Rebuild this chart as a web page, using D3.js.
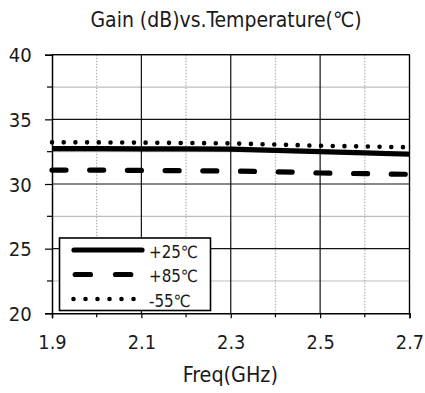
<!DOCTYPE html>
<html>
<head>
<meta charset="utf-8">
<script src="https://cdn.jsdelivr.net/npm/d3@7"></script>
<style>
  html, body { margin: 0; padding: 0; background: #fff; }
  svg { display: block; }
  text { font-family: "DejaVu Sans Condensed", "DejaVu Sans", sans-serif; fill: #1a1a1a; }
</style>
</head>
<body>
<svg id="chart" width="425" height="393"></svg>
<script>
const freqs = [1.9, 2.0, 2.1, 2.2, 2.3, 2.4, 2.5, 2.6, 2.7];
const gain25 = [32.73, 32.73, 32.72, 32.71, 32.69, 32.60, 32.50, 32.40, 32.30];
const gain85 = [31.08, 31.08, 31.05, 31.03, 31.00, 30.95, 30.85, 30.80, 30.75];
const gainM55 = [33.22, 33.22, 33.20, 33.17, 33.14, 33.05, 32.96, 32.90, 32.84];
const seriesNames = ["+25\u2103", "+85\u2103", "-55\u2103"];
const xTicks = [1.9, 2.1, 2.3, 2.5, 2.7];
const xMinor = [2.0, 2.2, 2.4, 2.6];
const yTicks = [20, 25, 30, 35, 40];
const yMinor = [22.5, 27.5, 32.5, 37.5];
const titleText = "Gain (dB)vs.Temperature(\u2103)";
const xTitle = "Freq(GHz)";

const svg = d3.select("#chart");
const x = d3.scaleLinear().domain([1.9, 2.7]).range([52, 409.5]);
const y = d3.scaleLinear().domain([20, 40]).range([313.3, 54.7]);

// scale a text node's font size so its width matches a target width
function fit(sel, targetW) {
  const node = sel.node();
  const w = node.getComputedTextLength();
  const fs = parseFloat(sel.attr("font-size"));
  if (w > 0) sel.attr("font-size", (fs * targetW / w).toFixed(2));
  return sel;
}

// minor horizontal gridlines
svg.append("g").selectAll("line").data(yMinor).join("line")
  .attr("x1", x(1.9)).attr("x2", x(2.7))
  .attr("y1", d => y(d)).attr("y2", d => y(d))
  .attr("stroke", "#bdbdbd").attr("stroke-width", 1.2);
// minor vertical gridlines (dotted)
svg.append("g").selectAll("line").data(xMinor).join("line")
  .attr("x1", d => x(d)).attr("x2", d => x(d))
  .attr("y1", y(40)).attr("y2", y(20))
  .attr("stroke", "#b0b0b0").attr("stroke-width", 1.2).attr("stroke-dasharray", "1.5,1.5");
// major horizontal gridlines
svg.append("g").selectAll("line").data(yTicks.filter(d => d > 20)).join("line")
  .attr("x1", x(1.9)).attr("x2", x(2.7))
  .attr("y1", d => y(d)).attr("y2", d => y(d))
  .attr("stroke", "#111").attr("stroke-width", 1.2);
// major vertical gridlines
svg.append("g").selectAll("line").data(xTicks.filter(d => d > 1.9)).join("line")
  .attr("x1", d => x(d)).attr("x2", d => x(d))
  .attr("y1", y(40)).attr("y2", y(20))
  .attr("stroke", "#111").attr("stroke-width", 1.2);

// axes
const yAxis = d3.axisLeft(y).tickValues(yTicks).tickSize(7).tickFormat(d3.format("d"));
const gy = svg.append("g").attr("transform", `translate(${x(1.9)},0)`).call(yAxis);
gy.attr("font-family", null).attr("font-size", null);
gy.select(".domain").attr("stroke", "#000").attr("stroke-width", 1.5);
gy.selectAll(".tick line").attr("stroke", "#000").attr("stroke-width", 1.2);
gy.selectAll(".tick text").attr("font-size", 19.5).attr("x", -20.3).attr("dy", null)
  .attr("y", 7).attr("fill", "#1a1a1a");
gy.selectAll(".tick text").each(function (d) { if (d === 40) fit(d3.select(this), 23); });
const yfs = gy.selectAll(".tick text").filter(d => d === 40).attr("font-size");
gy.selectAll(".tick text").attr("font-size", yfs);
gy.append("g").selectAll("line").data(yMinor).join("line")
  .attr("x1", -5).attr("x2", 0).attr("y1", d => y(d)).attr("y2", d => y(d))
  .attr("stroke", "#000").attr("stroke-width", 1.2);

const xAxis = d3.axisBottom(x).tickValues(xTicks).tickSize(5).tickFormat(d3.format(".1f"));
const gx = svg.append("g").attr("transform", `translate(0,${y(20)})`).call(xAxis);
gx.attr("font-family", null).attr("font-size", null);
gx.select(".domain").attr("stroke", "#000").attr("stroke-width", 1.5);
gx.selectAll(".tick line").attr("stroke", "#000").attr("stroke-width", 1.2);
gx.selectAll(".tick text").attr("font-size", 19.5).attr("dy", null).attr("y", 36)
  .attr("fill", "#1a1a1a");
gx.selectAll(".tick text").each(function (d) { if (d === 1.9) fit(d3.select(this), 28.3); });
const xfs = gx.selectAll(".tick text").filter(d => d === 1.9).attr("font-size");
gx.selectAll(".tick text").attr("font-size", xfs);
gx.append("g").selectAll("line").data(xMinor).join("line")
  .attr("x1", d => x(d)).attr("x2", d => x(d)).attr("y1", 0).attr("y2", 4)
  .attr("stroke", "#000").attr("stroke-width", 1.2);

// top and right borders
svg.append("line").attr("x1", x(1.9)).attr("x2", x(2.7)).attr("y1", y(40)).attr("y2", y(40))
  .attr("stroke", "#000").attr("stroke-width", 1.2);
svg.append("line").attr("x1", x(2.7)).attr("x2", x(2.7)).attr("y1", y(40)).attr("y2", y(20))
  .attr("stroke", "#000").attr("stroke-width", 1.2);

// data lines
const line = d3.line().x(d => x(d[0])).y(d => y(d[1]));
const series = [
  { vals: gain25, dash: null, cap: "butt", w: 5.2 },
  { vals: gain85, dash: "14,23.7", cap: "round", w: 5.2 },
  { vals: gainM55, dash: "0,11.7", cap: "round", w: 4.6 }
];
series.forEach(s => {
  svg.append("path")
    .datum(freqs.map((f, i) => [f, s.vals[i]]))
    .attr("d", line)
    .attr("fill", "none").attr("stroke", "#000")
    .attr("stroke-width", s.w)
    .attr("stroke-linecap", s.cap)
    .attr("stroke-dasharray", s.dash);
});

// legend
const lg = svg.append("g");
lg.append("rect").attr("x", 59.5).attr("y", 238).attr("width", 151).attr("height", 72.5)
  .attr("fill", "#fff").attr("stroke", "#000").attr("stroke-width", 1.6);
const legendRows = [
  { y: 250, x1: 74, x2: 142, dash: null, cap: "round", w: 5.2 },
  { y: 274.5, x1: 75.2, x2: 131, dash: "15.3,25", cap: "round", w: 5.2 },
  { y: 299, x1: 73.5, x2: 134, dash: "0,12", cap: "round", w: 4.6 }
];
const legTexts = [];
legendRows.forEach((r, i) => {
  lg.append("line").attr("x1", r.x1).attr("x2", r.x2).attr("y1", r.y).attr("y2", r.y)
    .attr("stroke", "#000").attr("stroke-width", r.w).attr("stroke-linecap", r.cap)
    .attr("stroke-dasharray", r.dash);
  legTexts.push(lg.append("text").attr("x", 149).attr("y", r.y + 7.5).attr("font-size", 18)
    .text(seriesNames[i]));
});
fit(legTexts[0], 49);
legTexts.forEach(t => t.attr("font-size", legTexts[0].attr("font-size")));

// titles
const tt = svg.append("text").attr("x", 226).attr("y", 26.7).attr("text-anchor", "middle")
  .attr("font-size", 17.5).text(titleText);
fit(tt, 271);
const xt = svg.append("text").attr("x", 230.3).attr("y", 382).attr("text-anchor", "middle")
  .attr("font-size", 19).text(xTitle);
fit(xt, 95.3);
</script>
</body>
</html>
